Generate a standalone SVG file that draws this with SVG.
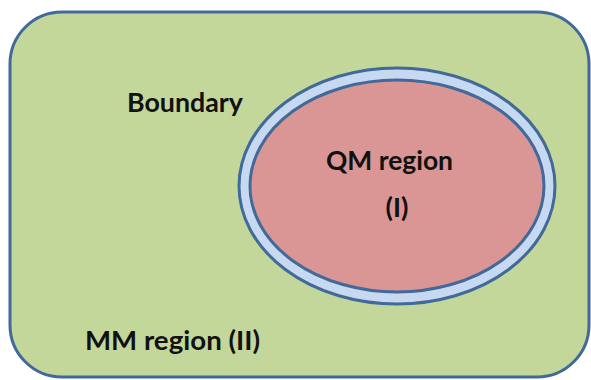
<svg xmlns="http://www.w3.org/2000/svg" width="591" height="380" viewBox="0 0 591 380">
  <style>
    .lbl { font-family: Lato, "Open Sans", "Liberation Sans", sans-serif; font-weight: bold; font-size: 27px; fill: #111; }
    .edge { stroke: #41699a; stroke-width: 3; }
  </style>
  <rect width="591" height="380" fill="#ffffff"/>
  <!-- MM region: outer rounded box -->
  <g id="mm-region">
    <rect class="edge" x="10" y="12" width="579" height="365" rx="52" ry="52" fill="#c4d79b"/>
    <text class="lbl" x="85" y="350" textLength="175" lengthAdjust="spacingAndGlyphs">MM region (II)</text>
  </g>
  <!-- Boundary label -->
  <g id="boundary-label">
    <text class="lbl" x="127" y="112" textLength="116" lengthAdjust="spacingAndGlyphs">Boundary</text>
  </g>
  <!-- Boundary ring and QM region -->
  <g id="boundary">
    <ellipse class="edge" cx="397" cy="186" rx="158" ry="118" fill="#c6d9f1"/>
  </g>
  <g id="qm-region">
    <ellipse class="edge" cx="397" cy="186" rx="147" ry="106" fill="#d99694"/>
    <text class="lbl" x="326" y="170" textLength="127" lengthAdjust="spacingAndGlyphs">QM region</text>
    <text class="lbl" x="397" y="217" text-anchor="middle">(I)</text>
  </g>
  <g id="connectors"/>
</svg>
